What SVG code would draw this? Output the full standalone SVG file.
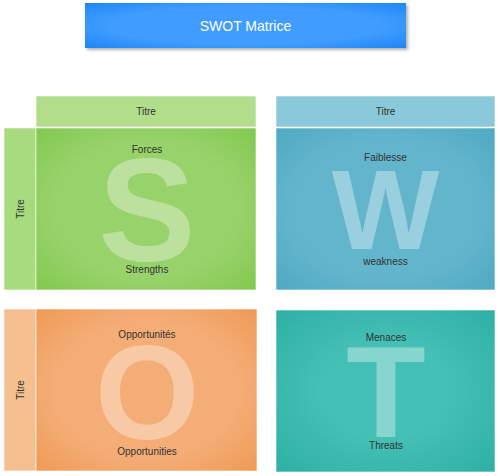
<svg xmlns="http://www.w3.org/2000/svg" width="500" height="476" viewBox="0 0 500 476">
<defs>
<style>
.lbl{font-family:"Liberation Sans",Arial,sans-serif;font-size:10px;fill:#333;text-anchor:middle;dominant-baseline:central}
.big{font-family:"Liberation Sans",Arial,sans-serif;font-weight:bold;fill:#fff;fill-opacity:0.35;text-anchor:middle}
.edge{stroke:#fff;stroke-opacity:0.6;stroke-width:1}
</style>
<radialGradient id="gG" cx="0.5" cy="0.5" r="0.7"><stop offset="0.6" stop-color="#98d26b"/><stop offset="1" stop-color="#82c94f"/></radialGradient>
<radialGradient id="gB" cx="0.5" cy="0.5" r="0.7"><stop offset="0.6" stop-color="#63b5cc"/><stop offset="1" stop-color="#4eaac2"/></radialGradient>
<radialGradient id="gO" cx="0.5" cy="0.5" r="0.7"><stop offset="0.6" stop-color="#f4ad76"/><stop offset="1" stop-color="#ef9a55"/></radialGradient>
<radialGradient id="gT" cx="0.5" cy="0.5" r="0.7"><stop offset="0.4" stop-color="#45c0b6"/><stop offset="1" stop-color="#2fb0a5"/></radialGradient>
<radialGradient id="gTitle" cx="0.5" cy="0.5" r="0.7"><stop offset="0.6" stop-color="#3f9dff"/><stop offset="1" stop-color="#1f86f5"/></radialGradient>
<filter id="sh" x="-10%" y="-10%" width="130%" height="140%"><feDropShadow dx="2" dy="2" stdDeviation="1.5" flood-color="#000" flood-opacity="0.3"/></filter>
</defs>
<g id="title">
<rect x="85" y="3" width="321" height="45" fill="url(#gTitle)" filter="url(#sh)"/>
<text x="245.5" y="25.5" font-family="'Liberation Sans',Arial,sans-serif" font-size="14" fill="#fff" text-anchor="middle" dominant-baseline="central">SWOT Matrice</text>
</g>
<g id="strengths">
<rect x="36" y="96" width="220" height="31" fill="#b2de8c" class="edge"/>
<text class="lbl" x="146" y="111.5">Titre</text>
<rect x="4" y="128" width="32" height="162" fill="#a8da7e" class="edge"/>
<text class="lbl" transform="translate(20,209) rotate(-90)">Titre</text>
<rect x="36" y="128" width="220" height="162" fill="url(#gG)" class="edge"/>
<text class="big" x="147" y="261" font-size="146">S</text>
<text class="lbl" x="147" y="149">Forces</text>
<text class="lbl" x="147" y="269">Strengths</text>
</g>
<g id="weakness">
<rect x="276" y="96" width="219" height="31" fill="#8ac9da" class="edge"/>
<text class="lbl" x="385.5" y="111.5">Titre</text>
<rect x="276" y="128" width="219" height="162" fill="url(#gB)" class="edge"/>
<text class="big" x="385.5" y="249" font-size="114">W</text>
<text class="lbl" x="385.5" y="157">Faiblesse</text>
<text class="lbl" x="385.5" y="261">weakness</text>
</g>
<g id="opportunities">
<rect x="4" y="309" width="32" height="162" fill="#f6bf90" class="edge"/>
<text class="lbl" transform="translate(20,390) rotate(-90)">Titre</text>
<rect x="36" y="309" width="221" height="162" fill="url(#gO)" class="edge"/>
<text class="big" x="147" y="439" font-size="134">O</text>
<text class="lbl" x="147" y="334">Opportunités</text>
<text class="lbl" x="147" y="451">Opportunities</text>
</g>
<g id="threats">
<rect x="276" y="310" width="219" height="162" fill="url(#gT)" class="edge"/>
<text class="big" x="386" y="437" font-size="130">T</text>
<text class="lbl" x="386" y="337">Menaces</text>
<text class="lbl" x="386" y="445">Threats</text>
</g>
<g id="connectors"/>
</svg>
